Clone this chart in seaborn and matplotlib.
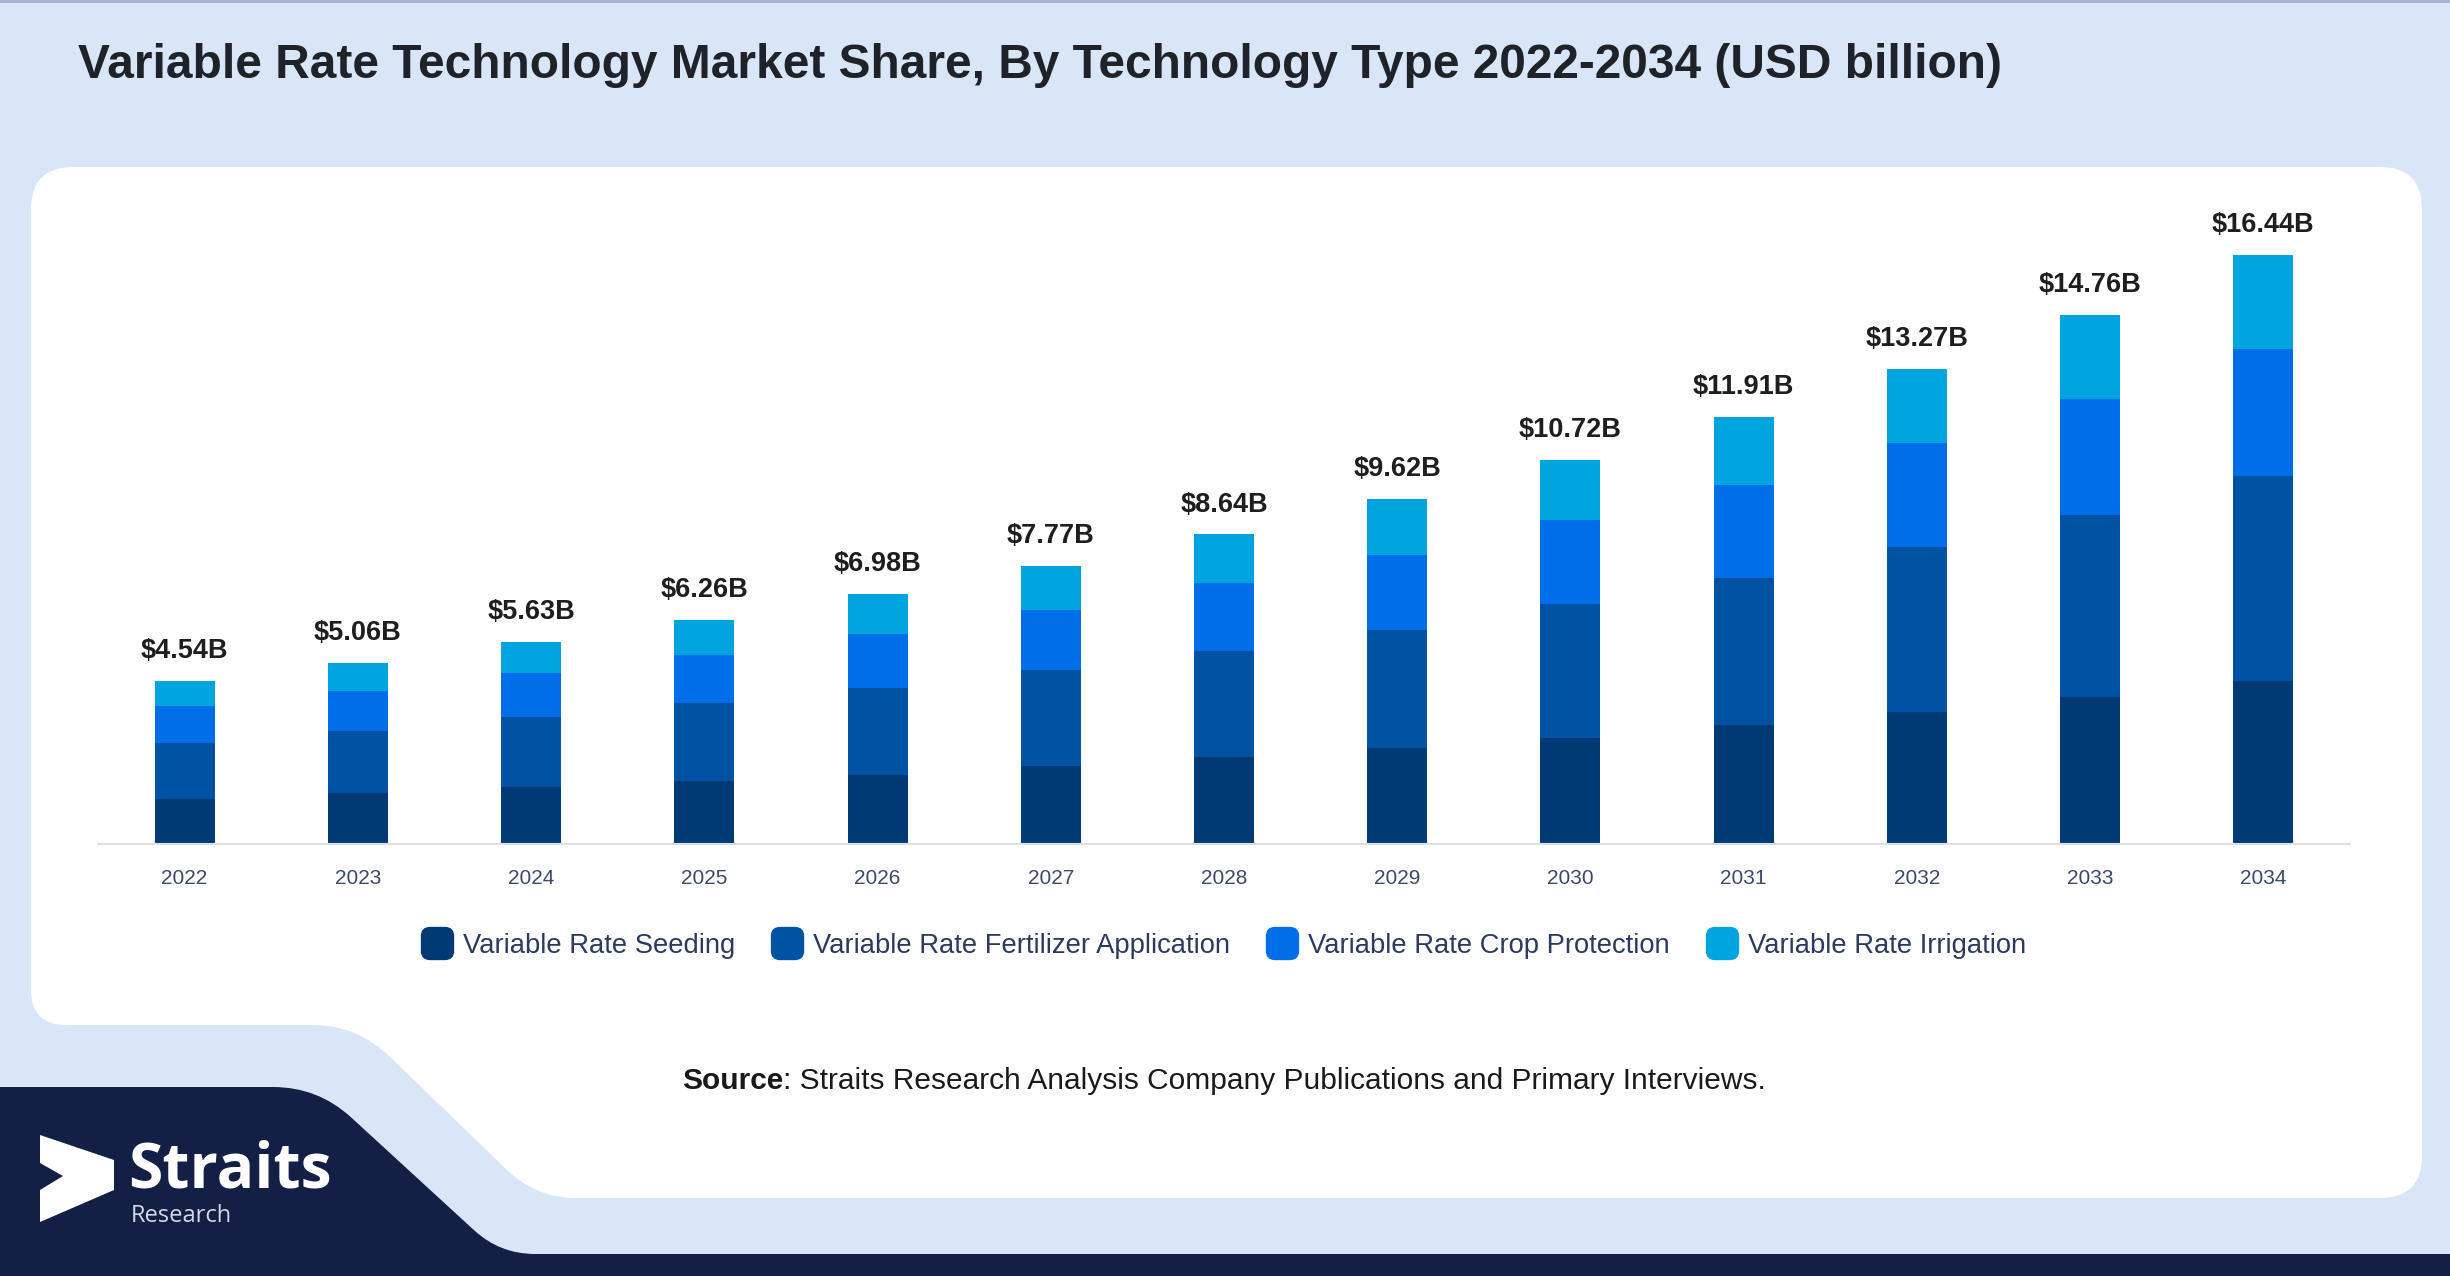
import numpy as np
import pandas as pd
import matplotlib
matplotlib.use("Agg")
import matplotlib.pyplot as plt
import seaborn as sns
from matplotlib.path import Path
from matplotlib.patches import PathPatch, Polygon, FancyBboxPatch
from matplotlib.lines import Line2D

# ---------------- data ----------------
years = [str(y) for y in range(2022, 2035)]
seeding    = [1.25, 1.43, 1.59, 1.75, 1.93, 2.18, 2.43, 2.68, 2.97, 3.31, 3.68, 4.09, 4.56]
fertilizer = [1.57, 1.73, 1.95, 2.18, 2.43, 2.68, 2.95, 3.29, 3.72, 4.11, 4.61, 5.09, 5.70]
crop       = [1.02, 1.11, 1.23, 1.34, 1.50, 1.68, 1.91, 2.11, 2.34, 2.61, 2.91, 3.25, 3.56]
irrigation = [0.70, 0.79, 0.86, 0.99, 1.12, 1.23, 1.35, 1.54, 1.69, 1.88, 2.07, 2.33, 2.62]
totals     = [4.54, 5.06, 5.63, 6.26, 6.98, 7.77, 8.64, 9.62, 10.72, 11.91, 13.27, 14.76, 16.44]
series_names = ["Variable Rate Seeding", "Variable Rate Fertilizer Application",
                "Variable Rate Crop Protection", "Variable Rate Irrigation"]
colors = ["#003a75", "#0052a3", "#006ee8", "#00a5e0"]

title = "Variable Rate Technology Market Share, By Technology Type 2022-2034 (USD billion)"
source_bold = "Source"
source_rest = ": Straits Research Analysis Company Publications and Primary Interviews."

# ---------------- style ----------------
sns.set_style("white")
plt.rcParams["font.family"] = ["Liberation Sans", "DejaVu Sans"]

W, H = 2450, 1276
fig = plt.figure(figsize=(W / 100, H / 100), dpi=100)
fig.patch.set_facecolor("#d9e6f8")

bg = fig.add_axes([0, 0, 1, 1])
bg.set_xlim(0, W)
bg.set_ylim(H, 0)
bg.axis("off")
bg.set_zorder(0)


def rounded_path(pts, radii):
    n = len(pts)
    verts, codes = [], []
    for i in range(n):
        p0 = np.array(pts[i - 1], float)
        p1 = np.array(pts[i], float)
        p2 = np.array(pts[(i + 1) % n], float)
        d1 = p0 - p1
        d2 = p2 - p1
        l1, l2 = np.linalg.norm(d1), np.linalg.norm(d2)
        r = min(radii[i], l1 / 2, l2 / 2)
        a = p1 + d1 / l1 * r
        b = p1 + d2 / l2 * r
        if i == 0:
            verts.append(a); codes.append(Path.MOVETO)
        else:
            verts.append(a); codes.append(Path.LINETO)
        verts += [p1, b]
        codes += [Path.CURVE3, Path.CURVE3]
    verts.append(verts[0]); codes.append(Path.CLOSEPOLY)
    return Path(verts, codes)


# white panel
panel_pts = [(31, 167), (2422, 167), (2422, 1198), (536, 1198), (357, 1025), (31, 1025)]
bg.add_patch(PathPatch(rounded_path(panel_pts, [42, 42, 42, 40, 45, 35]),
                       facecolor="white", edgecolor="none"))
# navy footer
navy_pts = [(-5, 1087), (318, 1087), (500, 1254), (W + 5, 1254), (W + 5, H + 5), (-5, H + 5)]
bg.add_patch(PathPatch(rounded_path(navy_pts, [0, 45, 35, 0, 0, 0]),
                       facecolor="#131f45", edgecolor="none"))
# top border line
bg.plot([0, W], [1, 1], color="#a3b1cf", lw=2)

# logo
arrow = [(40, 1135), (114, 1160), (114, 1190), (40, 1222), (40, 1190), (63, 1176), (40, 1163)]
bg.add_patch(Polygon(arrow, closed=True, facecolor="white", edgecolor="none"))
bg.text(128, 1187, "Straits", color="white", fontsize=45, fontweight="bold",
        family=["Open Sans", "Liberation Sans"], va="baseline", ha="left")
bg.text(131, 1222, "Research", color="#d3d9e6", fontsize=17,
        family=["Open Sans", "Liberation Sans"], va="baseline", ha="left")

# title
bg.text(78, 78, title, fontsize=34.5, fontweight="bold", color="#1f2329",
        va="baseline", ha="left")

# source
t1 = bg.text(0, 1089, source_bold, fontsize=21.5, fontweight="bold", color="#1a1a1a",
             va="baseline", ha="left")
t2 = bg.text(0, 1089, source_rest, fontsize=21.5, color="#1a1a1a",
             va="baseline", ha="left")
renderer = fig.canvas.get_renderer()
w1 = t1.get_window_extent(renderer).width
w2 = t2.get_window_extent(renderer).width
x0 = 1224 - (w1 + w2) / 2
t1.set_x(x0)
t2.set_x(x0 + w1)

# ---------------- chart ----------------
ax_left, ax_right = 98, 2350
base_y = 844
ymax = 18
px_per_unit = 589 / 16.44
top_y = base_y - ymax * px_per_unit
ax = fig.add_axes([ax_left / W, (H - base_y) / H, (ax_right - ax_left) / W,
                   (base_y - top_y) / H])
ax.set_zorder(2)
ax.patch.set_alpha(0)

df = pd.DataFrame({"year": years, "s": seeding, "f": fertilizer, "c": crop, "i": irrigation})
df["cum1"] = df["s"]
df["cum2"] = df["s"] + df["f"]
df["cum3"] = df["cum2"] + df["c"]
df["cum4"] = df["cum3"] + df["i"]

for col, colr in zip(["cum4", "cum3", "cum2", "cum1"], colors[::-1]):
    sns.barplot(data=df, x="year", y=col, order=years, color=colr, saturation=1,
                width=0.346, errorbar=None, ax=ax, linewidth=0)

ax.set_xlim(-0.5, 12.5)
ax.set_ylim(0, ymax)
ax.set_xlabel("")
ax.set_ylabel("")
ax.set_yticks([])
for s in ["top", "right", "left"]:
    ax.spines[s].set_visible(False)
ax.spines["bottom"].set_color("#dcdfe6")
ax.spines["bottom"].set_linewidth(1.5)
ax.tick_params(axis="x", length=0, pad=18, labelsize=15, labelcolor="#3c4a68")

for i, t in enumerate(totals):
    ax.annotate(f"${t:.2f}B", xy=(i, df["cum4"][i]), xytext=(0, 16.5),
                textcoords="offset points", ha="center", va="baseline",
                fontsize=19.5, fontweight="bold", color="#1e1e1e")

# legend with rounded-square markers
box = FancyBboxPatch((-0.5, -0.5), 1, 1, boxstyle="round,pad=0,rounding_size=0.27")
rpath = box.get_path()
handles = [Line2D([], [], linestyle="none", marker=rpath, markersize=23,
                  markerfacecolor=c, markeredgecolor=c) for c in colors]
fig.legend(handles, series_names, loc="center", bbox_to_anchor=(1223 / W, 1 - 946 / H),
           ncol=4, frameon=False, fontsize=19.7, handlelength=1.2, handletextpad=0.35,
           columnspacing=1.3, labelcolor="#2b3a5e")

fig.savefig("out.png", dpi=100, facecolor=fig.get_facecolor())
